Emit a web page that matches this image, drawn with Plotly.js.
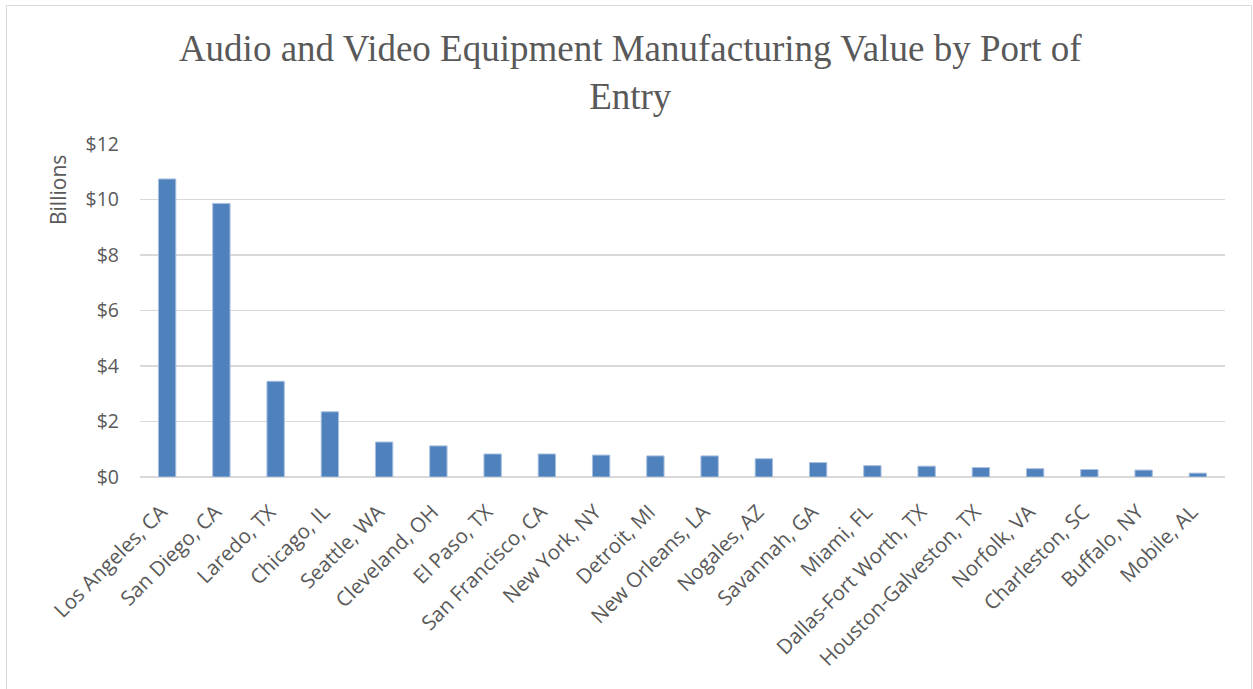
<!DOCTYPE html>
<html>
<head>
<meta charset="utf-8">
<script src="https://cdn.plot.ly/plotly-3.0.1.min.js"></script>
<style>html,body{margin:0;padding:0;background:#fff;}#chart{width:1253px;height:689px;}</style>
</head>
<body>
<div id="chart"></div>
<script>
const ports = ["Los Angeles, CA","San Diego, CA","Laredo, TX","Chicago, IL","Seattle, WA","Cleveland, OH","El Paso, TX","San Francisco, CA","New York, NY","Detroit, MI","New Orleans, LA","Nogales, AZ","Savannah, GA","Miami, FL","Dallas-Fort Worth, TX","Houston-Galveston, TX","Norfolk, VA","Charleston, SC","Buffalo, NY","Mobile, AL"];
const valuesBillions = [10.74,9.86,3.45,2.35,1.26,1.12,0.83,0.83,0.79,0.76,0.76,0.66,0.52,0.41,0.39,0.34,0.30,0.27,0.25,0.14];
const yTickVals = [0,2,4,6,8,10,12];
const yTickText = ["$0","$2","$4","$6","$8","$10","$12"];

const grey = '#595959';
const sans = '"Open Sans", "Noto Sans", sans-serif';
const trace = {
  type: 'bar',
  x: ports,
  y: valuesBillions,
  marker: {color: '#4F81BD', line: {color: '#A9C0DF', width: 1}},
  width: 0.32,
  hoverinfo: 'x+y'
};
const layout = {
  width: 1253, height: 689,
  margin: {l: 140, r: 28, t: 144, b: 212},
  paper_bgcolor: '#fff', plot_bgcolor: '#fff',
  showlegend: false,
  title: {
    text: 'Audio and Video Equipment Manufacturing Value by Port of<br>Entry',
    font: {family: '"Liberation Serif", "Times New Roman", serif', size: 37, color: grey},
    x: 0.503, xanchor: 'center',
    y: 1 - 61/689, yanchor: 'top', yref: 'container'
  },
  xaxis: {
    type: 'category',
    tickangle: -45,
    tickfont: {family: sans, size: 20.5, color: grey},
    showgrid: false, showline: false, ticks: '',
    zeroline: false, automargin: false,
    ticklabelstandoff: 18, ticklabelshift: -6
  },
  yaxis: {
    range: [0, 12],
    tickvals: yTickVals, ticktext: yTickText,
    tickfont: {family: sans, size: 19.5, color: grey},
    showgrid: true, gridcolor: '#D9D9D9', gridwidth: 1.5,
    zeroline: true, zerolinecolor: '#D9D9D9', zerolinewidth: 1.5,
    showline: false, ticks: '', ticklabelstandoff: 20, automargin: false
  },
  annotations: [{
    text: 'Billions', textangle: -90, showarrow: false,
    xref: 'paper', yref: 'paper',
    x: (58-140)/1085, y: (477-190)/333,
    xanchor: 'center', yanchor: 'middle',
    font: {family: sans, size: 21, color: grey}
  }],
  shapes: [{
    type: 'rect', xref: 'paper', yref: 'paper',
    x0: (6.5-140)/1085, x1: (1251.5-140)/1085,
    y0: (477-720)/333, y1: (477-5.5)/333,
    line: {color: '#D9D9D9', width: 1}, fillcolor: 'rgba(0,0,0,0)', layer: 'below'
  }]
};
Plotly.newPlot('chart', [trace], layout, {displayModeBar: false, staticPlot: true});
</script>
</body>
</html>
